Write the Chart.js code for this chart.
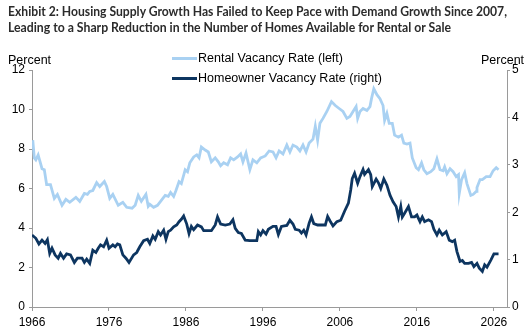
<!DOCTYPE html>
<html>
<head>
<meta charset="utf-8">
<script src="https://cdn.jsdelivr.net/npm/chart.js@4.4.1/dist/chart.umd.min.js"></script>
<style>
  html, body { margin: 0; padding: 0; background: #fff; }
  #wrap { position: relative; width: 532px; height: 333px; overflow: hidden; }
  #c { position: absolute; left: 0; top: 0; }
  .title { position: absolute; left: 8px; font-family: 'Lato', sans-serif; font-weight: 700; font-size: 13.5px; color: #2b2b2b; white-space: nowrap; transform-origin: 0 0; line-height: 1; }
  .lbl { position: absolute; font-family: 'Liberation Sans', Arial, sans-serif; font-size: 12.5px; color: #000; white-space: nowrap; line-height: 1; }
  .swatch { position: absolute; height: 3px; width: 25px; }
</style>
</head>
<body>
<div id="wrap">
  <canvas id="c" width="532" height="333"></canvas>
  <div class="title" id="t1" style="top:5px">Exhibit 2: Housing Supply Growth Has Failed to Keep Pace with Demand Growth Since 2007,</div>
  <div class="title" id="t2" style="top:21px">Leading to a Sharp Reduction in the Number of Homes Available for Rental or Sale</div>
  <div class="lbl" style="left:8px; top:54px;">Percent</div>
  <div class="lbl" style="left:481px; top:54px;">Percent</div>
  <div class="swatch" style="left:172px; top:57px; background:#a9d1f2;"></div>
  <div class="lbl" style="left:198px; top:52px;">Rental Vacancy Rate (left)</div>
  <div class="swatch" style="left:172px; top:77px; background:#0d3560;"></div>
  <div class="lbl" style="left:198px; top:72px;">Homeowner Vacancy Rate (right)</div>
</div>
<script>
const xTickLabels = [1966, 1976, 1986, 1996, 2006, 2016, 2026];
const leftTicks = [0, 2, 4, 6, 8, 10, 12];
const rightTicks = [0, 1, 2, 3, 4, 5];

const rentalYears = [1966.1,1966.3,1966.5,1966.8,1967.3,1967.6,1967.9,1968.4,1968.9,1969.3,1969.9,1970.4,1970.9,1971.7,1972.2,1972.8,1973.2,1973.5,1973.9,1974.4,1974.8,1975.4,1975.7,1976.1,1976.5,1977.2,1977.8,1978.3,1979.0,1979.4,1979.8,1980.2,1980.8,1981.1,1981.3,1981.8,1982.3,1982.8,1983.3,1983.7,1984.0,1984.4,1984.7,1985.1,1985.4,1985.9,1986.2,1986.5,1987.0,1987.4,1987.7,1988.0,1988.5,1988.9,1989.3,1989.8,1990.2,1990.5,1990.9,1991.4,1991.8,1992.2,1992.7,1993.1,1993.4,1993.8,1994.3,1994.7,1995.2,1995.7,1996.3,1996.8,1997.3,1997.7,1998.1,1998.6,1999.1,1999.5,1999.9,2000.4,2000.8,2001.2,2001.6,2002.0,2002.5,2002.8,2003.1,2003.4,2003.8,2004.3,2004.9,2005.4,2005.9,2006.4,2006.9,2007.3,2007.7,2008.1,2008.3,2008.6,2009.0,2009.5,2009.9,2010.1,2010.4,2010.8,2011.2,2011.6,2011.8,2012.1,2012.4,2012.8,2013.1,2013.6,2014.0,2014.3,2014.7,2015.1,2015.4,2015.9,2016.2,2016.6,2016.9,2017.3,2017.8,2018.2,2018.6,2019.0,2019.4,2019.6,2019.9,2020.3,2020.7,2021.1,2021.4,2021.5,2021.8,2022.2,2022.5,2023.0,2023.3,2023.7,2023.8,2024.2,2024.5,2025.0,2025.5,2025.9,2026.3,2026.6];
const rentalValues = [8.45,7.55,7.45,7.7,7.0,6.95,6.2,6.2,5.5,5.7,5.15,5.45,5.3,5.55,5.35,5.75,5.7,5.85,5.9,6.3,6.1,6.35,6.1,5.5,5.7,5.15,5.3,5.05,5.0,5.15,5.65,5.35,5.7,5.1,5.2,5.05,5.15,5.4,5.65,5.6,5.8,5.6,5.9,6.35,6.25,6.95,6.85,7.3,7.6,7.7,7.55,8.1,7.95,7.85,7.35,7.55,7.35,7.15,7.3,7.2,7.55,7.45,7.6,7.75,7.35,7.8,6.95,7.45,7.3,7.55,7.65,7.9,7.85,7.55,7.9,7.75,8.2,7.85,8.2,8.1,7.9,8.2,7.85,8.3,8.5,9.15,8.45,9.3,9.55,9.9,10.4,10.2,10.05,9.9,9.55,9.65,9.9,10.15,9.55,9.9,10.05,9.95,10.15,10.55,11.05,10.75,10.55,10.2,9.45,9.8,9.3,9.3,8.7,8.6,8.7,8.3,8.25,8.3,7.55,7.05,6.95,7.3,6.95,6.75,6.85,7.0,7.5,6.95,6.9,7.1,6.75,7.0,6.85,6.6,6.7,5.75,6.45,6.8,6.25,5.65,5.7,5.85,6.05,6.45,6.45,6.6,6.6,6.9,7.05,6.95];

const ownerYears = [1966.0,1966.5,1966.9,1967.3,1967.7,1968.0,1968.3,1968.6,1969.0,1969.4,1969.7,1970.1,1970.5,1971.0,1971.5,1971.9,1972.5,1972.8,1973.1,1973.5,1973.9,1974.3,1974.6,1974.9,1975.3,1975.7,1976.0,1976.5,1976.8,1977.1,1977.4,1977.8,1978.2,1978.6,1979.2,1979.6,1980.0,1980.5,1981.0,1981.3,1981.7,1982.0,1982.4,1982.7,1983.1,1983.4,1983.7,1984.0,1984.4,1984.8,1985.1,1985.4,1985.7,1986.1,1986.4,1986.7,1987.0,1987.5,1988.0,1988.3,1989.3,1989.8,1990.1,1990.5,1991.1,1991.7,1992.1,1992.4,1992.8,1993.2,1993.7,1994.3,1995.2,1995.4,1995.7,1996.0,1996.4,1996.7,1997.3,1997.7,1998.0,1998.4,1999.1,1999.5,1999.9,2000.2,2000.7,2001.0,2001.3,2001.6,2002.0,2002.3,2002.6,2003.1,2004.1,2004.4,2004.7,2005.1,2005.6,2006.1,2006.6,2007.1,2007.4,2007.6,2007.9,2008.3,2008.6,2009.0,2009.2,2009.7,2010.0,2010.2,2010.7,2011.0,2011.3,2011.7,2012.1,2012.5,2012.9,2013.3,2013.6,2013.9,2014.1,2014.4,2014.9,2015.3,2015.7,2016.0,2016.4,2016.7,2017.0,2017.5,2017.9,2018.2,2018.6,2018.9,2019.3,2019.8,2020.2,2020.6,2020.9,2021.2,2021.6,2021.9,2022.2,2022.7,2023.1,2023.4,2023.8,2024.1,2024.5,2024.8,2025.1,2025.6,2026.0,2026.6];
const ownerValues = [1.52,1.45,1.33,1.41,1.34,1.42,1.13,1.24,1.10,1.03,1.13,1.03,1.12,1.10,0.94,1.03,1.03,0.94,1.01,0.92,1.20,1.15,1.24,1.31,1.27,1.41,1.24,1.31,1.27,1.33,1.31,1.10,1.03,0.94,1.10,1.15,1.27,1.40,1.43,1.34,1.50,1.43,1.59,1.52,1.62,1.43,1.59,1.62,1.69,1.73,1.80,1.85,1.92,1.75,1.55,1.70,1.63,1.73,1.69,1.61,1.61,1.73,1.90,1.75,1.73,1.75,1.84,1.66,1.57,1.55,1.41,1.40,1.40,1.59,1.52,1.61,1.54,1.64,1.70,1.70,1.53,1.70,1.72,1.83,1.75,1.64,1.62,1.56,1.62,1.52,1.77,1.90,1.76,1.73,1.73,1.91,1.82,1.71,1.80,1.83,2.02,2.19,2.47,2.71,2.82,2.61,2.75,2.90,2.80,2.90,2.79,2.54,2.70,2.62,2.50,2.70,2.57,2.36,2.22,2.12,1.90,2.12,1.90,1.98,2.12,1.90,1.90,1.94,1.80,1.90,1.80,1.84,1.80,1.64,1.52,1.62,1.52,1.59,1.41,1.38,1.41,1.17,0.96,0.98,0.92,0.92,0.94,0.85,0.92,0.82,0.75,0.89,0.84,0.99,1.12,1.12];

const zip = (xs, ys) => xs.map((x, i) => ({ x: x, y: ys[i] }));

const axisColor = '#9a9a9a';
const tickFont = { family: "'Liberation Sans', Arial, sans-serif", size: 12 };

new Chart(document.getElementById('c'), {
  type: 'line',
  data: {
    datasets: [
      { label: 'Rental Vacancy Rate (left)', data: zip(rentalYears, rentalValues), yAxisID: 'yL',
        borderColor: '#a9d1f2', borderWidth: 2.8, pointRadius: 0, tension: 0, fill: false },
      { label: 'Homeowner Vacancy Rate (right)', data: zip(ownerYears, ownerValues), yAxisID: 'yR',
        borderColor: '#0d3560', borderWidth: 2.8, pointRadius: 0, tension: 0, fill: false }
    ]
  },
  options: {
    responsive: false,
    animation: false,
    events: [],
    layout: { padding: { top: 70, left: 0, right: 0, bottom: 0 } },
    plugins: { legend: { display: false }, title: { display: false }, tooltip: { enabled: false } },
    scales: {
      x: {
        type: 'linear', min: 1966, max: 2027.7,
        afterBuildTicks: s => { s.ticks = xTickLabels.map(v => ({ value: v })); },
        afterFit: s => { s.height = 26; },
        ticks: { callback: v => String(v), font: tickFont, color: '#000', padding: 4, maxRotation: 0, autoSkip: false },
        grid: { display: true, drawOnChartArea: false, drawTicks: true, tickLength: 4, color: axisColor },
        border: { display: true, color: axisColor, width: 1 }
      },
      yL: {
        type: 'linear', position: 'left', min: 0, max: 12,
        afterBuildTicks: s => { s.ticks = leftTicks.map(v => ({ value: v })); },
        afterFit: s => { s.width = 32; },
        ticks: { font: tickFont, color: '#000', padding: 4 },
        grid: { display: true, drawOnChartArea: false, drawTicks: true, tickLength: 3, color: axisColor },
        border: { display: true, color: axisColor, width: 1 }
      },
      yR: {
        type: 'linear', position: 'right', min: 0, max: 5,
        afterBuildTicks: s => { s.ticks = rightTicks.map(v => ({ value: v })); },
        afterFit: s => { s.width = 25; },
        ticks: { font: tickFont, color: '#000', padding: 2 },
        grid: { display: true, drawOnChartArea: false, drawTicks: true, tickLength: 3, color: axisColor },
        border: { display: true, color: axisColor, width: 1 }
      }
    }
  }
});

// fit title lines to the reference widths
function fitTitle(id, w) {
  const el = document.getElementById(id);
  const cur = el.getBoundingClientRect().width;
  if (cur > 0) el.style.transform = 'scaleX(' + (w / cur) + ')';
}
fitTitle('t1', 499);
fitTitle('t2', 443);
</script>
</body>
</html>
